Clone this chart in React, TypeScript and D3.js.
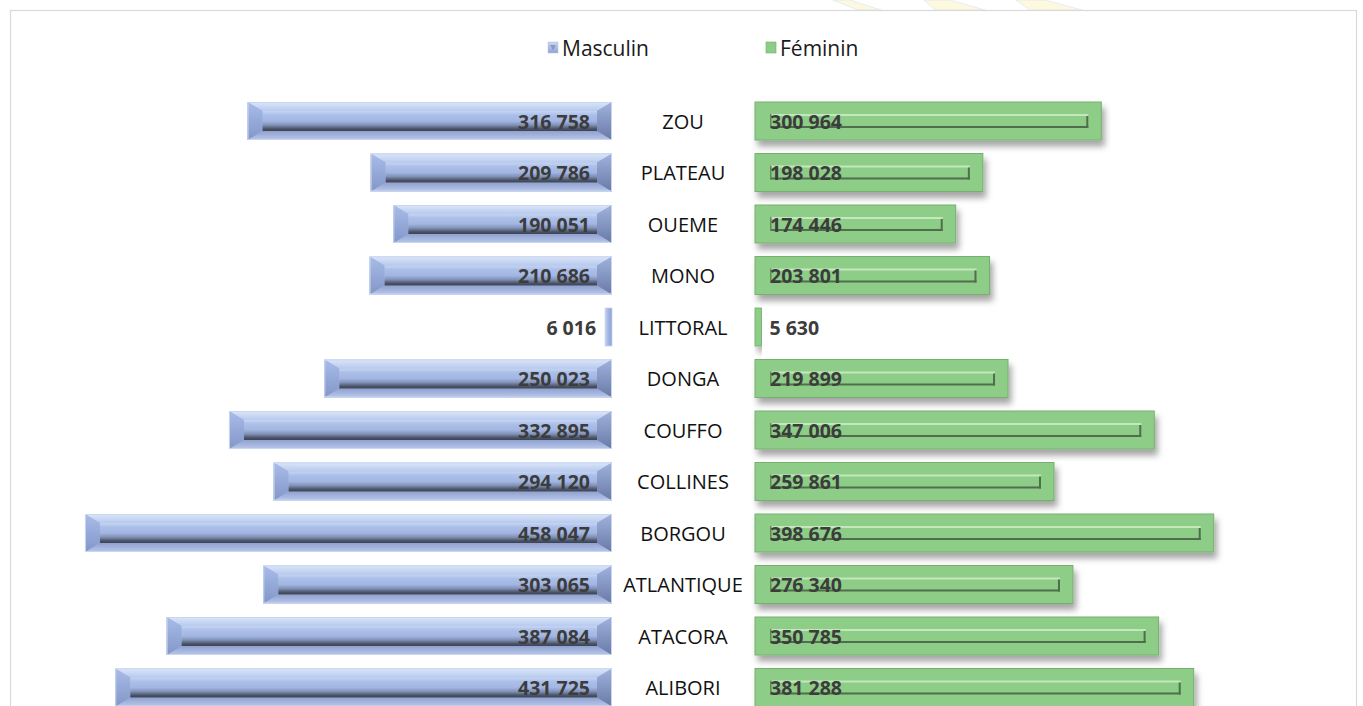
import React from 'react';
import * as d3 from 'd3';

const categories = ['ZOU', 'PLATEAU', 'OUEME', 'MONO', 'LITTORAL', 'DONGA', 'COUFFO', 'COLLINES', 'BORGOU', 'ATLANTIQUE', 'ATACORA', 'ALIBORI'];
const masculin = [316758, 209786, 190051, 210686, 6016, 250023, 332895, 294120, 458047, 303065, 387084, 431725];
const feminin = [300964, 198028, 174446, 203801, 5630, 219899, 347006, 259861, 398676, 276340, 350785, 381288];
const seriesNames = ['Masculin', 'Féminin'];

const W = 1363;
const H = 706;
const leftEdge = 612;
const rightEdge = 755;
const centerX = 683;

const fmt = (v: number) => d3.format(',')(v).replace(/,/g, ' ');

const BlueBar = ({ x0, x1, y0, y1 }: { x0: number; x1: number; y0: number; y1: number }) => {
  const w = x1 - x0;
  if (w < 30) {
    return <rect x={x0} y={y0} width={w} height={y1 - y0} fill="url(#blueThin)" stroke="#c6d3ee" strokeWidth={0.8} />;
  }
  const bx = 15;
  const by = 9;
  return (
    <g>
      <rect x={x0} y={y0} width={w} height={y1 - y0} fill="#a6b9e4" />
      <polygon points={`${x0},${y0} ${x1},${y0} ${x1 - bx},${y0 + by} ${x0 + bx},${y0 + by}`} fill="url(#blueTop)" />
      <polygon points={`${x0},${y1} ${x1},${y1} ${x1 - bx},${y1 - by} ${x0 + bx},${y1 - by}`} fill="url(#blueBottom)" />
      <polygon points={`${x0},${y0} ${x0 + bx},${y0 + by} ${x0 + bx},${y1 - by} ${x0},${y1}`} fill="url(#blueLeft)" />
      <polygon points={`${x1},${y0} ${x1 - bx},${y0 + by} ${x1 - bx},${y1 - by} ${x1},${y1}`} fill="url(#blueRight)" />
      <rect x={x0 + bx} y={y0 + by} width={w - 2 * bx} height={y1 - y0 - 2 * by} fill="url(#blueFace)" />
      <rect x={x0 + 0.5} y={y0 + 0.5} width={w - 1} height={y1 - y0 - 1} fill="none" stroke="#c9d6f0" strokeWidth={1} />
    </g>
  );
};

const GreenBar = ({ x0, x1, y0, y1 }: { x0: number; x1: number; y0: number; y1: number }) => {
  const w = x1 - x0;
  const h = y1 - y0;
  if (w < 30) {
    return <rect x={x0} y={y0} width={w} height={h} fill="#8dcd87" stroke="#6fae69" strokeWidth={0.8} filter="url(#shadow)" />;
  }
  const lx0 = x0 + 15;
  const lx1 = x1 - 13;
  const ly0 = y0 + 12;
  const ly1 = y0 + 26;
  return (
    <g>
      <rect x={x0} y={y0} width={w} height={h} fill="#8dcd87" stroke="#74b16d" strokeWidth={1} filter="url(#shadow)" />
      <rect x={lx0} y={ly0} width={lx1 - lx0} height={2} fill="#c3e8bc" />
      <rect x={lx0} y={ly1 - 2} width={lx1 - lx0} height={2} fill="#4f6e4b" />
      <rect x={lx1 - 2} y={ly0 + 2} width={2} height={ly1 - ly0 - 2} fill="#4f6e4b" />
      <rect x={lx0} y={ly0} width={1.5} height={ly1 - ly0} fill="#5f8a5a" />
    </g>
  );
};

export default function App() {
  const x = d3.scaleLinear().domain([0, 500000]).range([0, 575.3]);
  const y = d3.scaleBand<string>().domain(categories).range([95.25, 713.25]).paddingInner(0.262).paddingOuter(0.131);
  const bh = y.bandwidth();
  const labelColor = '#3c3c3c';
  const font = "'Open Sans', sans-serif";

  return (
    <svg width={W} height={H} style={{ position: 'absolute', left: 0, top: 0, background: '#fff' }} fontFamily={font}>
      <defs>
        <linearGradient id="blueTop" x1="0" y1="0" x2="0" y2="1">
          <stop offset="0" stopColor="#dbe6f8" />
          <stop offset="1" stopColor="#b7c9ee" />
        </linearGradient>
        <linearGradient id="blueBottom" x1="0" y1="0" x2="0" y2="1">
          <stop offset="0" stopColor="#8fa1cf" />
          <stop offset="1" stopColor="#b9c7ea" />
        </linearGradient>
        <linearGradient id="blueLeft" x1="0" y1="0" x2="0" y2="1">
          <stop offset="0" stopColor="#a9bce8" />
          <stop offset="1" stopColor="#8297c9" />
        </linearGradient>
        <linearGradient id="blueRight" x1="0" y1="0" x2="0" y2="1">
          <stop offset="0" stopColor="#9fb2de" />
          <stop offset="1" stopColor="#6a7aa6" />
        </linearGradient>
        <linearGradient id="blueFace" x1="0" y1="0" x2="0" y2="1">
          <stop offset="0" stopColor="#c6d6f2" />
          <stop offset="0.2" stopColor="#abbfe9" />
          <stop offset="0.5" stopColor="#a3b6e2" />
          <stop offset="0.7" stopColor="#8192b8" />
          <stop offset="0.88" stopColor="#4d5669" />
          <stop offset="1" stopColor="#3a4252" />
        </linearGradient>
        <linearGradient id="blueThin" x1="0" y1="0" x2="1" y2="0">
          <stop offset="0" stopColor="#c2d1ef" />
          <stop offset="0.5" stopColor="#9fb4e2" />
          <stop offset="1" stopColor="#8ea3d4" />
        </linearGradient>
        <linearGradient id="legendBlue" x1="0" y1="0" x2="0" y2="1">
          <stop offset="0" stopColor="#c9d7f3" />
          <stop offset="1" stopColor="#8ea3d4" />
        </linearGradient>
        <filter id="shadow" x="-5%" y="-30%" width="112%" height="180%">
          <feDropShadow dx="3" dy="6" stdDeviation="3" floodColor="#000" floodOpacity="0.35" />
        </filter>
      </defs>

      {/* faint watermark above the frame */}
      <g opacity={0.45}>
        <path d="M833,0 L850,0 L881,10 L858,10 Z" fill="#fdf3b8" stroke="#b7cde6" strokeWidth={0.8} />
        <path d="M924,0 L950,0 L985,10 L935,10 Z" fill="#fdf3b8" stroke="#b7cde6" strokeWidth={0.8} />
        <path d="M1016,0 L1045,0 L1082,10 L1030,10 Z" fill="#fdf3b8" stroke="#b7cde6" strokeWidth={0.8} />
      </g>

      {/* frame */}
      <rect x={10.5} y={10.5} width={1346} height={720} fill="#fff" stroke="#d9d9d9" strokeWidth={1.2} />

      {/* legend */}
      <g>
        <rect x={548} y={42} width={10} height={11} fill="url(#legendBlue)" stroke="#b6c5e8" strokeWidth={0.6} />
        <polygon points="550,45 556,45 553,50" fill="#6f7fa8" opacity={0.6} />
        <text x={562} y={48} dominantBaseline="central" fontSize={21} fill="#1a1a1a">{seriesNames[0]}</text>
        <rect x={766} y={42} width={10} height={11} fill="#8dcd87" stroke="#6fae69" strokeWidth={0.6} />
        <text x={780} y={48} dominantBaseline="central" fontSize={21} fill="#1a1a1a">{seriesNames[1]}</text>
      </g>

      {categories.map((c, i) => {
        const y0 = y(c) as number;
        const y1 = y0 + bh;
        const cy = y0 + bh / 2;
        const mw = x(masculin[i]);
        const fw = x(feminin[i]);
        const mInside = mw > 60;
        const fInside = fw > 60;
        return (
          <g key={c}>
            <BlueBar x0={leftEdge - mw} x1={leftEdge} y0={y0} y1={y1} />
            <GreenBar x0={rightEdge} x1={rightEdge + fw} y0={y0} y1={y1} />
            <text
              x={mInside ? leftEdge - 22 : leftEdge - mw - 9}
              y={cy}
              textAnchor="end"
              dominantBaseline="central"
              fontSize={19.5}
              fontWeight={700}
              fill={labelColor}
            >
              {fmt(masculin[i])}
            </text>
            <text
              x={fInside ? rightEdge + 15 : rightEdge + fw + 8}
              y={cy}
              dominantBaseline="central"
              fontSize={19.5}
              fontWeight={700}
              fill={labelColor}
            >
              {fmt(feminin[i])}
            </text>
            <text x={centerX} y={cy} textAnchor="middle" dominantBaseline="central" fontSize={20} fill="#111">
              {c}
            </text>
          </g>
        );
      })}
    </svg>
  );
}
